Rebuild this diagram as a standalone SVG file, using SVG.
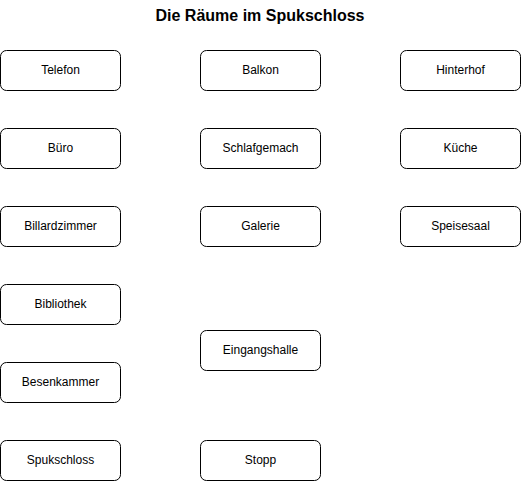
<svg xmlns="http://www.w3.org/2000/svg" width="521" height="481" viewBox="0 0 521 481">
<style>
.n rect{fill:#fff;stroke:#000;stroke-width:1}
.n text{font-family:"Liberation Sans",Arial,sans-serif;font-size:12px;fill:#000;text-anchor:middle;dominant-baseline:central}
.t{font-family:"Liberation Sans",Arial,sans-serif;font-size:16px;font-weight:bold;text-anchor:middle;dominant-baseline:central}
</style>
<rect width="521" height="481" fill="#fff"/>
<text class="t" x="260" y="15.5">Die Räume im Spukschloss</text>
<g id="connectors"></g>
<g id="telefon" class="n"><rect x="0.5" y="50.5" width="120" height="40" rx="6"/><text x="60.5" y="69.5">Telefon</text></g>
<g id="balkon" class="n"><rect x="200.5" y="50.5" width="120" height="40" rx="6"/><text x="260.5" y="69.5">Balkon</text></g>
<g id="hinterhof" class="n"><rect x="400.5" y="50.5" width="120" height="40" rx="6"/><text x="460.5" y="69.5">Hinterhof</text></g>
<g id="buero" class="n"><rect x="0.5" y="128.5" width="120" height="40" rx="6"/><text x="60.5" y="147.5">Büro</text></g>
<g id="schlafgemach" class="n"><rect x="200.5" y="128.5" width="120" height="40" rx="6"/><text x="260.5" y="147.5">Schlafgemach</text></g>
<g id="kueche" class="n"><rect x="400.5" y="128.5" width="120" height="40" rx="6"/><text x="460.5" y="147.5">Küche</text></g>
<g id="billardzimmer" class="n"><rect x="0.5" y="206.5" width="120" height="40" rx="6"/><text x="60.5" y="225.5">Billardzimmer</text></g>
<g id="galerie" class="n"><rect x="200.5" y="206.5" width="120" height="40" rx="6"/><text x="260.5" y="225.5">Galerie</text></g>
<g id="speisesaal" class="n"><rect x="400.5" y="206.5" width="120" height="40" rx="6"/><text x="460.5" y="225.5">Speisesaal</text></g>
<g id="bibliothek" class="n"><rect x="0.5" y="284.5" width="120" height="40" rx="6"/><text x="60.5" y="303.5">Bibliothek</text></g>
<g id="eingangshalle" class="n"><rect x="200.5" y="330.5" width="120" height="40" rx="6"/><text x="260.5" y="349.5">Eingangshalle</text></g>
<g id="besenkammer" class="n"><rect x="0.5" y="362.5" width="120" height="40" rx="6"/><text x="60.5" y="381.5">Besenkammer</text></g>
<g id="spukschloss" class="n"><rect x="0.5" y="440.5" width="120" height="40" rx="6"/><text x="60.5" y="459.5">Spukschloss</text></g>
<g id="stopp" class="n"><rect x="200.5" y="440.5" width="120" height="40" rx="6"/><text x="260.5" y="459.5">Stopp</text></g>
</svg>
